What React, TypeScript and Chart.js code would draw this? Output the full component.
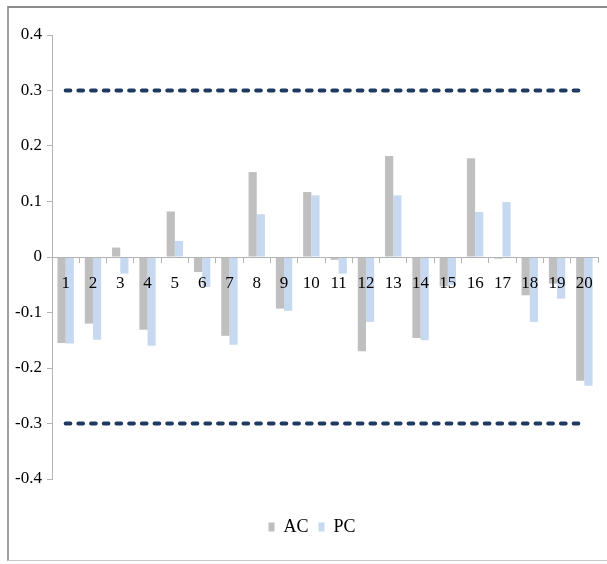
import React, { useEffect, useRef } from "react";
import { Chart, registerables } from "chart.js";

Chart.register(...registerables);

const categories = ["1", "2", "3", "4", "5", "6", "7", "8", "9", "10", "11", "12", "13", "14", "15", "16", "17", "18", "19", "20"];
const acValues = [-0.155, -0.12, 0.017, -0.131, 0.082, -0.027, -0.142, 0.153, -0.093, 0.117, -0.005, -0.17, 0.182, -0.146, -0.053, 0.178, -0.003, -0.069, -0.048, -0.223];
const pcValues = [-0.156, -0.149, -0.03, -0.16, 0.029, -0.054, -0.158, 0.077, -0.097, 0.111, -0.03, -0.117, 0.111, -0.15, -0.05, 0.081, 0.099, -0.117, -0.075, -0.232];
const upperBound = [0.3, 0.3, 0.3, 0.3, 0.3, 0.3, 0.3, 0.3, 0.3, 0.3, 0.3, 0.3, 0.3, 0.3, 0.3, 0.3, 0.3, 0.3, 0.3, 0.3];
const lowerBound = [-0.3, -0.3, -0.3, -0.3, -0.3, -0.3, -0.3, -0.3, -0.3, -0.3, -0.3, -0.3, -0.3, -0.3, -0.3, -0.3, -0.3, -0.3, -0.3, -0.3];
const yTickValues = [-0.4, -0.3, -0.2, -0.1, 0, 0.1, 0.2, 0.3, 0.4];
const yTickLabels = ["-0.4", "-0.3", "-0.2", "-0.1", "0", "0.1", "0.2", "0.3", "0.4"];

const FONT = "'Liberation Serif', 'Times New Roman', serif";

const shiftLegend = {
  id: "shiftLegend",
  afterLayout(chart: any) {
    if (chart.legend) {
      chart.legend.left += 26;
    }
  },
};

export default function App() {
  const canvasRef = useRef<HTMLCanvasElement | null>(null);

  useEffect(() => {
    const canvas = canvasRef.current;
    if (!canvas) return;
    const chart = new Chart(canvas, {
      type: "bar",
      data: {
        labels: categories,
        datasets: [
          {
            type: "bar",
            label: "AC",
            data: acValues,
            backgroundColor: "#BFBFBF",
            borderWidth: 0,
            categoryPercentage: 0.6,
            barPercentage: 1,
            order: 2,
          },
          {
            type: "bar",
            label: "PC",
            data: pcValues,
            backgroundColor: "#C6D9F1",
            borderWidth: 0,
            categoryPercentage: 0.6,
            barPercentage: 1,
            order: 2,
          },
          {
            type: "line",
            label: "upper",
            data: upperBound,
            borderColor: "#1F3A60",
            borderWidth: 4,
            borderDash: [4.7, 8],
            borderCapStyle: "round",
            pointRadius: 0,
            fill: false,
            order: 1,
          },
          {
            type: "line",
            label: "lower",
            data: lowerBound,
            borderColor: "#1F3A60",
            borderWidth: 4,
            borderDash: [4.7, 8],
            borderCapStyle: "round",
            pointRadius: 0,
            fill: false,
            order: 1,
          },
        ] as any,
      },
      options: {
        animation: false,
        responsive: false,
        devicePixelRatio: 1,
        layout: { padding: { left: 0, right: 9, top: 35, bottom: 18 } },
        scales: {
          x: {
            type: "category",
            position: { y: 0 } as any,
            offset: true,
            grid: {
              offset: true,
              drawOnChartArea: false,
              drawTicks: true,
              tickLength: 5,
              color: "#B3B3B3",
              z: 1,
            },
            border: { color: "#B3B3B3", width: 1, z: 1 },
            ticks: {
              color: "#000",
              font: { family: FONT, size: 17 },
              padding: 11,
              maxRotation: 0,
              autoSkip: false,
              z: 2,
            },
          },
          y: {
            min: -0.4,
            max: 0.4,
            afterBuildTicks: (scale: any) => {
              scale.ticks = yTickValues.map((v) => ({ value: v }));
            },
            afterFit: (scale: any) => {
              scale.width = 52;
            },
            grid: {
              drawOnChartArea: false,
              drawTicks: true,
              tickLength: 5,
              color: "#B3B3B3",
            },
            border: { color: "#B3B3B3", width: 1 },
            ticks: {
              color: "#000",
              font: { family: FONT, size: 17 },
              padding: 5,
              callback: (value: any) => {
                const i = yTickValues.findIndex((v) => Math.abs(v - Number(value)) < 1e-9);
                return i >= 0 ? yTickLabels[i] : "";
              },
            },
          },
        },
        plugins: {
          tooltip: { enabled: false },
          legend: {
            display: true,
            position: "bottom",
            title: {
              display: true,
              text: " ",
              font: { size: 10 },
              padding: { top: 17, bottom: 0 },
            },
            labels: {
              filter: (item: any) => item.datasetIndex < 2,
              boxWidth: 6,
              boxHeight: 9,
              padding: 10,
              color: "#000",
              font: { family: FONT, size: 18 },
            },
          },
        },
      },
      plugins: [shiftLegend],
    });
    return () => chart.destroy();
  }, []);

  return (
    <div style={{ position: "absolute", left: 0, top: 0, width: 607, height: 564, overflow: "hidden" }}>
      <div
        style={{
          position: "absolute",
          left: 7,
          top: 6,
          width: 620,
          height: 555,
          boxSizing: "border-box",
          borderTop: "2px solid #8C8C8C",
          borderLeft: "2px solid #A0A0A0",
          borderBottom: "1px solid #C8C8C8",
        }}
      />
      <canvas
        ref={canvasRef}
        width={607}
        height={564}
        style={{ position: "absolute", left: 0, top: 0, width: 607, height: 564, display: "block" }}
      />
    </div>
  );
}
